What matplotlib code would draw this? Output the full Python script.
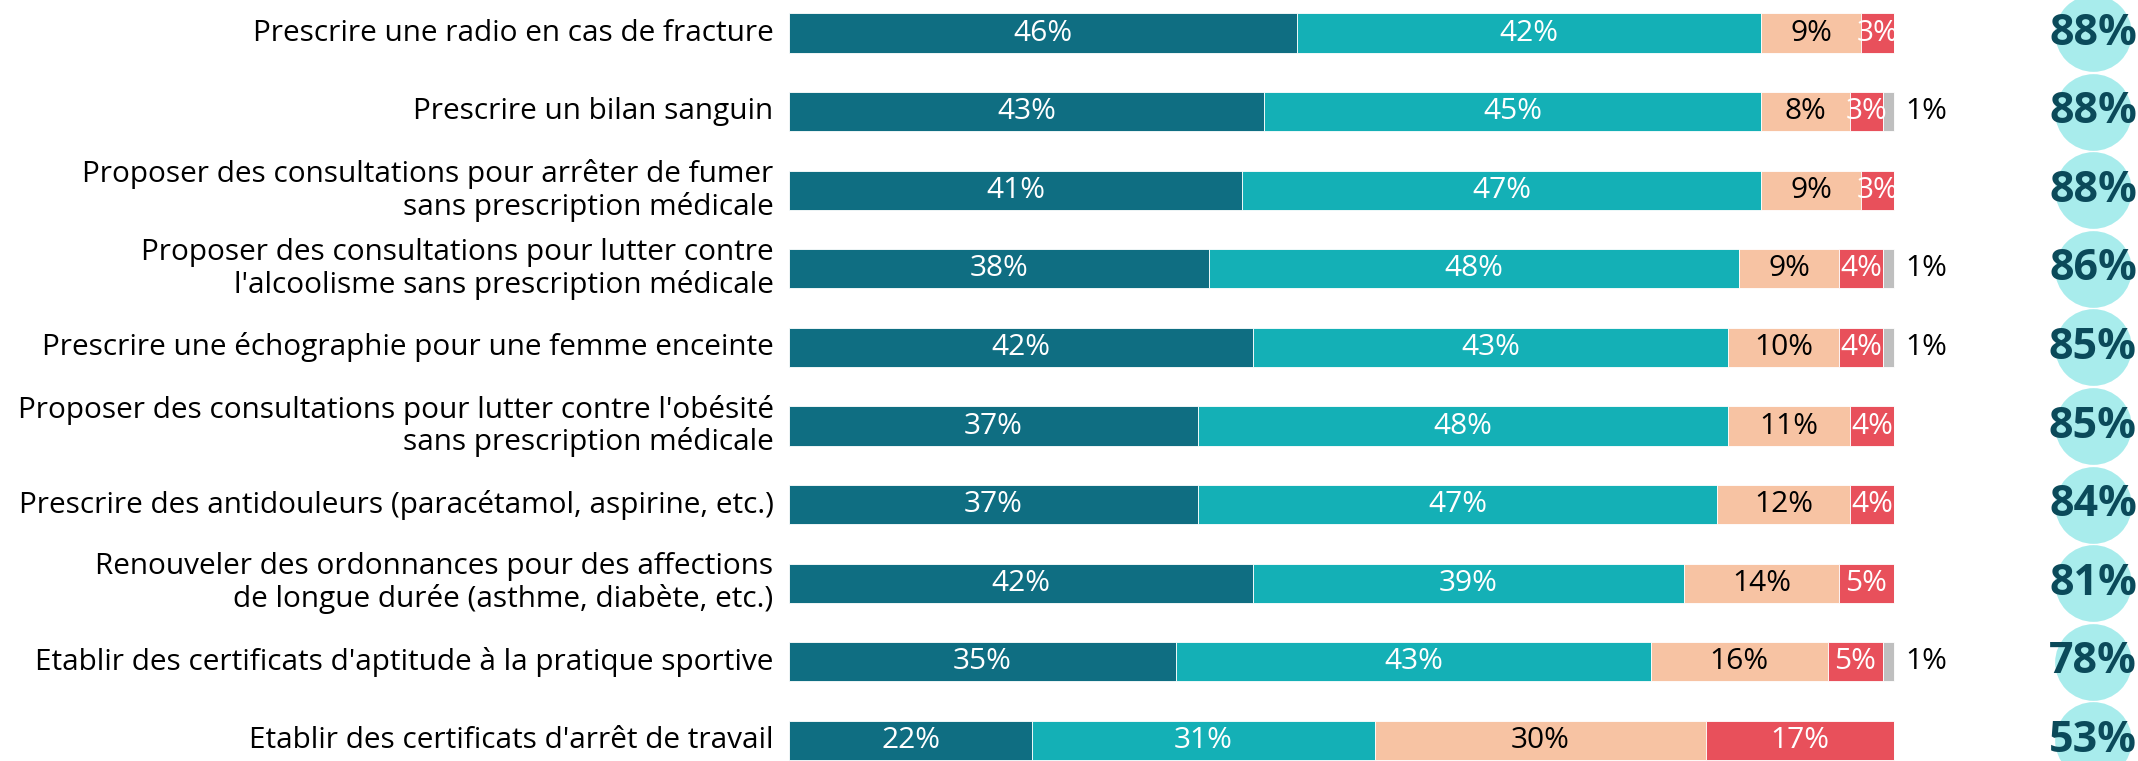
import matplotlib
matplotlib.use("Agg")
import matplotlib.pyplot as plt
import numpy as np

plt.rcParams['font.family'] = ['Open Sans', 'DejaVu Sans']

categories = [
    "Prescrire une radio en cas de fracture",
    "Prescrire un bilan sanguin",
    "Proposer des consultations pour arrêter de fumer\nsans prescription médicale",
    "Proposer des consultations pour lutter contre\nl'alcoolisme sans prescription médicale",
    "Prescrire une échographie pour une femme enceinte",
    "Proposer des consultations pour lutter contre l'obésité\nsans prescription médicale",
    "Prescrire des antidouleurs (paracétamol, aspirine, etc.)",
    "Renouveler des ordonnances pour des affections\nde longue durée (asthme, diabète, etc.)",
    "Etablir des certificats d'aptitude à la pratique sportive",
    "Etablir des certificats d'arrêt de travail",
]
tout_a_fait = [46, 43, 41, 38, 42, 37, 37, 42, 35, 22]
plutot_oui = [42, 45, 47, 48, 43, 48, 47, 39, 43, 31]
plutot_non = [9, 8, 9, 9, 10, 11, 12, 14, 16, 30]
pas_du_tout = [3, 3, 3, 4, 4, 4, 4, 5, 5, 17]
nsp = [0, 1, 0, 1, 1, 0, 0, 0, 1, 0]
total_oui = [88, 88, 88, 86, 85, 85, 84, 81, 78, 53]

series = [tout_a_fait, plutot_oui, plutot_non, pas_du_tout, nsp]
colors = ["#0f6e82", "#14b0b6", "#f7c3a3", "#e8505b", "#bfbfbf"]
text_colors = ["white", "white", "black", "white", None]

W, H = 2138, 761
fig = plt.figure(figsize=(W / 100, H / 100), dpi=100)
ax = fig.add_axes([0, 0, 1, 1])

# pixel geometry -> data limits
x0_px, px_per_pct = 789, 11.05
y0_px, px_per_row = 33, 78.6
ax.set_xlim(-x0_px / px_per_pct, (W - x0_px) / px_per_pct)
ax.set_ylim((H - y0_px) / px_per_row, -y0_px / px_per_row)
ax.axis("off")

y = np.arange(len(categories))
left = np.zeros(len(categories))
for k, vals in enumerate(series):
    vals = np.array(vals, dtype=float)
    bars = ax.barh(y, vals, left=left, height=0.5, color=colors[k],
                   edgecolor="white", linewidth=0.6)
    for i, b in enumerate(bars):
        v = vals[i]
        if v <= 0:
            continue
        if text_colors[k] is None:
            ax.text(101.0, y[i], f"{int(v)}%", ha="left", va="center",
                    fontsize=21.5, color="black")
        else:
            t = ax.text(left[i] + v / 2, y[i], f"{int(v)}%", ha="center",
                        va="center", fontsize=21.5, color=text_colors[k])
            t.set_clip_path(b)
    left += vals

for i, c in enumerate(categories):
    ax.text(-1.4, y[i], c, ha="right", va="center", fontsize=21.4,
            linespacing=1.12, color="black")

circ_x = (2093 - x0_px) / px_per_pct
ax.scatter([circ_x] * len(y), y, s=3050, color="#a8ecec", linewidths=0,
           zorder=3, clip_on=False)
for i, v in enumerate(total_oui):
    ax.text(circ_x, y[i], f"{v}%", ha="center", va="center", fontsize=31,
            fontweight="bold", color="#0b4a5a", zorder=4)

fig.savefig("out.png", dpi=100)
